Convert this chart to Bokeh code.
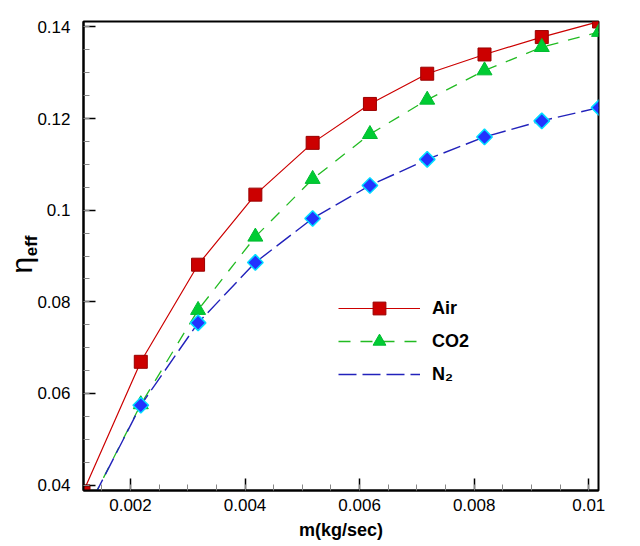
import numpy as np
from bokeh.plotting import figure
from bokeh.models import Range1d, FixedTicker, CustomJSTickFormatter, Label, Legend
from bokeh.embed import file_html
from bokeh.resources import INLINE

# ---- data ----
m_flow = [0.00118, 0.00218, 0.00318, 0.00418, 0.00518, 0.00618, 0.00718, 0.00818, 0.00918, 0.01018]
eta_air = [0.0386, 0.0669, 0.0881, 0.1034, 0.1147, 0.1232, 0.1298, 0.1340, 0.1378, 0.1412]
eta_co2 = [0.0330, 0.0576, 0.0782, 0.0942, 0.1068, 0.1166, 0.1241, 0.1305, 0.1356, 0.1389]
eta_n2 = [0.0330, 0.0574, 0.0754, 0.0886, 0.0982, 0.1054, 0.1111, 0.1160, 0.1195, 0.1224]
x_ticks = [0.002, 0.004, 0.006, 0.008, 0.01]
y_ticks = [0.04, 0.06, 0.08, 0.1, 0.12, 0.14]
series_names = ["Air", "CO2", "N\u2082"]

FONT = "Liberation Sans"

p = figure(width=624, height=546, output_backend="svg", toolbar_location=None,
           x_range=Range1d(0.00118, 0.01017), y_range=Range1d(0.0388, 0.1412),
           min_border_left=83, min_border_right=26, min_border_top=21, min_border_bottom=56,
           background_fill_color="white", border_fill_color="white")
p.grid.visible = False
p.outline_line_color = "black"
p.outline_line_width = 2

x_minor = list(np.round(np.arange(0.0015, 0.0101, 0.0005), 5))
y_minor = list(np.round(np.arange(0.04, 0.1411, 0.005), 4))
p.xaxis.ticker = FixedTicker(ticks=x_ticks, minor_ticks=x_minor)
p.yaxis.ticker = FixedTicker(ticks=y_ticks, minor_ticks=y_minor)
fmt = "return parseFloat(tick.toFixed(6)).toString();"
p.xaxis.formatter = CustomJSTickFormatter(code=fmt)
p.yaxis.formatter = CustomJSTickFormatter(code=fmt)

for ax in (p.xaxis, p.yaxis):
    ax.axis_line_width = 2
    ax.axis_line_color = "black"
    ax.major_tick_in = 12
    ax.major_tick_out = 0
    ax.minor_tick_in = 6
    ax.minor_tick_out = 0
    ax.major_tick_line_width = 1.5
    ax.major_tick_line_color = "black"
    ax.minor_tick_line_color = "#888888"
    ax.minor_tick_line_width = 1
    ax.major_label_text_font = FONT
    ax.major_label_text_font_size = "17px"
    ax.major_label_text_color = "black"

p.xaxis.major_label_standoff = 8
p.yaxis.major_label_standoff = 13
p.xaxis.axis_label = "m(kg/sec)"
p.xaxis.axis_label_text_font = FONT
p.xaxis.axis_label_text_font_style = "bold"
p.xaxis.axis_label_text_font_size = "18px"
p.xaxis.axis_label_text_color = "black"
p.xaxis.axis_label_standoff = 6

# series
r_air_l = p.line(m_flow, eta_air, line_color="#CC0000", line_width=1.2)
r_air_m = p.scatter(m_flow, eta_air, marker="square", size=13, fill_color="#CC0000",
                    line_color="#990000", line_width=1)
r_co2_l = p.line(m_flow, eta_co2, line_color="#22BB22", line_width=1.3, line_dash="12 10")
r_co2_m = p.scatter(m_flow, eta_co2, marker="triangle", size=15, fill_color="#00CC33",
                    line_color="#00BB30", line_width=1)
r_n2_l = p.line(m_flow, eta_n2, line_color="#2222BB", line_width=1.4, line_dash="18 6")
r_n2_m = p.scatter(m_flow, eta_n2, marker="square", angle=np.pi / 4, size=11,
                   fill_color="#2233FF", line_color="#00DDFF", line_width=1.5)
# legend-only marker (legend does not rotate markers)
r_n2_leg = p.scatter(x=[], y=[], marker="diamond", size=16,
                     fill_color="#2233FF", line_color="#00DDFF", line_width=1.5)

legend = Legend(items=[(series_names[0], [r_air_l, r_air_m]),
                       (series_names[1], [r_co2_l, r_co2_m]),
                       (series_names[2], [r_n2_l, r_n2_leg])],
                location=(255, 100), glyph_width=82, glyph_height=32, label_height=32,
                spacing=1, label_standoff=12, padding=0, margin=0,
                border_line_color=None, background_fill_alpha=0,
                label_text_font=FONT, label_text_font_style="bold",
                label_text_font_size="18px", label_text_color="black")
p.add_layout(legend, "center")

# y-axis label: eta (left panel) with subscript "eff" (above panel, drawn beside it)
p.add_layout(Label(x=20, y=0.0880, x_units="screen", y_units="data", text="\u03b7",
                   angle=np.pi / 2, text_align="center", text_baseline="middle",
                   text_font=FONT, text_font_size="30px", text_color="black"), "left")
p.add_layout(Label(x=-52, y=0.0922, x_units="screen", y_units="data", text="eff",
                   angle=np.pi / 2, text_align="center", text_baseline="middle",
                   text_font=FONT, text_font_style="bold", text_font_size="17px",
                   text_color="black"), "above")

open("out.html", "w").write(file_html(p, INLINE))
